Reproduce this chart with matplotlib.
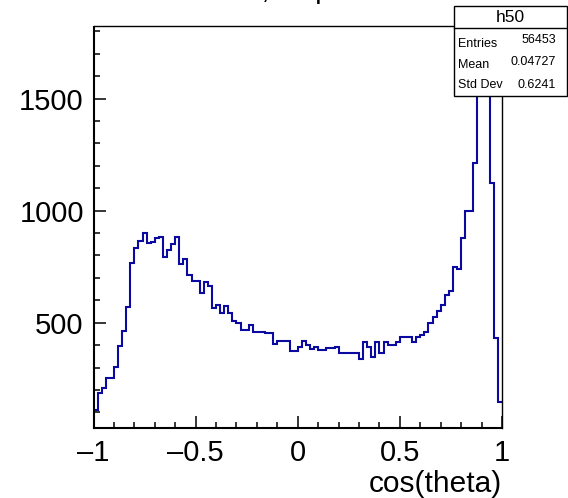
import numpy as np
import matplotlib
matplotlib.use("Agg")
import matplotlib.pyplot as plt
from matplotlib.ticker import MultipleLocator, FixedLocator

plt.rcParams['font.family'] = ['Liberation Sans', 'DejaVu Sans']

# histogram h50: 100 bins of cos(theta) in [-1, 1]
bin_edges = np.linspace(-1, 1, 101)
counts = [
    110, 188, 207, 255, 252, 304, 397, 462, 572, 765,
    832, 865, 902, 857, 862, 879, 884, 795, 825, 850,
    884, 762, 783, 713, 688, 688, 631, 683, 664, 564,
    578, 542, 575, 542, 508, 497, 467, 467, 490, 460,
    460, 460, 453, 453, 404, 418, 418, 418, 375, 375,
    393, 420, 400, 381, 393, 378, 378, 386, 386, 393,
    366, 366, 363, 363, 363, 337, 415, 393, 348, 415,
    366, 415, 400, 400, 415, 435, 435, 438, 415, 438,
    445, 460, 500, 527, 554, 579, 624, 643, 750, 738,
    879, 1000, 998, 1212, 1520, 1740, 1540, 1122, 430, 147,
]
xticks = [-1, -0.5, 0, 0.5, 1]
xtick_labels = ["\u20131", "\u20130.5", "0", "0.5", "1"]
yticks = [500, 1000, 1500]

stats_name = "h50"
stats_rows = [("Entries", "56453"), ("Mean", "0.04727"), ("Std Dev", "0.6241")]

W, H = 568, 498
fig = plt.figure(figsize=(W / 100, H / 100), dpi=100)
ax = fig.add_axes([93.5 / W, 1 - 428 / H, (502 - 93.5) / W, (428 - 26.5) / H])

ax.stairs(counts, bin_edges, baseline=None, color='#0a0aa0', lw=1.5)

ax.set_xlim(-1, 1)
ax.set_ylim(30, 1822)

ax.xaxis.set_major_locator(FixedLocator(xticks))
ax.xaxis.set_minor_locator(MultipleLocator(0.1))
ax.set_xticks(xticks)
ax.set_xticklabels(xtick_labels)
ax.yaxis.set_major_locator(FixedLocator(yticks))
ax.yaxis.set_minor_locator(MultipleLocator(100))

ax.tick_params(which='both', direction='in', top=False, right=False, width=1.1, labelsize=21)
ax.tick_params(which='major', length=8.6)
ax.tick_params(which='minor', length=4.3)
ax.tick_params(axis='y', pad=7)
ax.tick_params(axis='x', pad=8)

for s in ['left', 'bottom']:
    ax.spines[s].set_linewidth(1.5)
for s in ['top', 'right']:
    ax.spines[s].set_linewidth(1.0)

ax.set_xlabel("cos(theta)", fontsize=21.5, loc='right', labelpad=2)

# title, mostly cut off at the top of the canvas
fig.text(331 / W, 1 + 2 / H, "h50, all p", fontsize=21, ha='right', va='baseline')

# stats box
bx0, bx1, by0, by1, bh = 454 / W, 567 / W, 1 - 96 / H, 1 - 6 / H, 1 - 28 / H
box = plt.Rectangle((bx0, by0), bx1 - bx0, by1 - by0, transform=fig.transFigure,
                    facecolor='white', edgecolor='black', lw=1.0, zorder=10)
fig.add_artist(box)
fig.add_artist(plt.Line2D([bx0, bx1], [bh, bh], transform=fig.transFigure,
                          color='black', lw=1.0, zorder=11))
fig.text((bx0 + bx1) / 2, 1 - 17 / H, stats_name, fontsize=12.5, ha='center', va='center', zorder=12)
row_y = [44, 65, 85]
val_y = [40, 62, 85]
for (lab, val), ly, vy in zip(stats_rows, row_y, val_y):
    fig.text(458 / W, 1 - ly / H, lab, fontsize=9, ha='left', va='center', zorder=12)
    fig.text(556 / W, 1 - vy / H, val, fontsize=9, ha='right', va='center', zorder=12)

fig.savefig("out.png", dpi=100)
